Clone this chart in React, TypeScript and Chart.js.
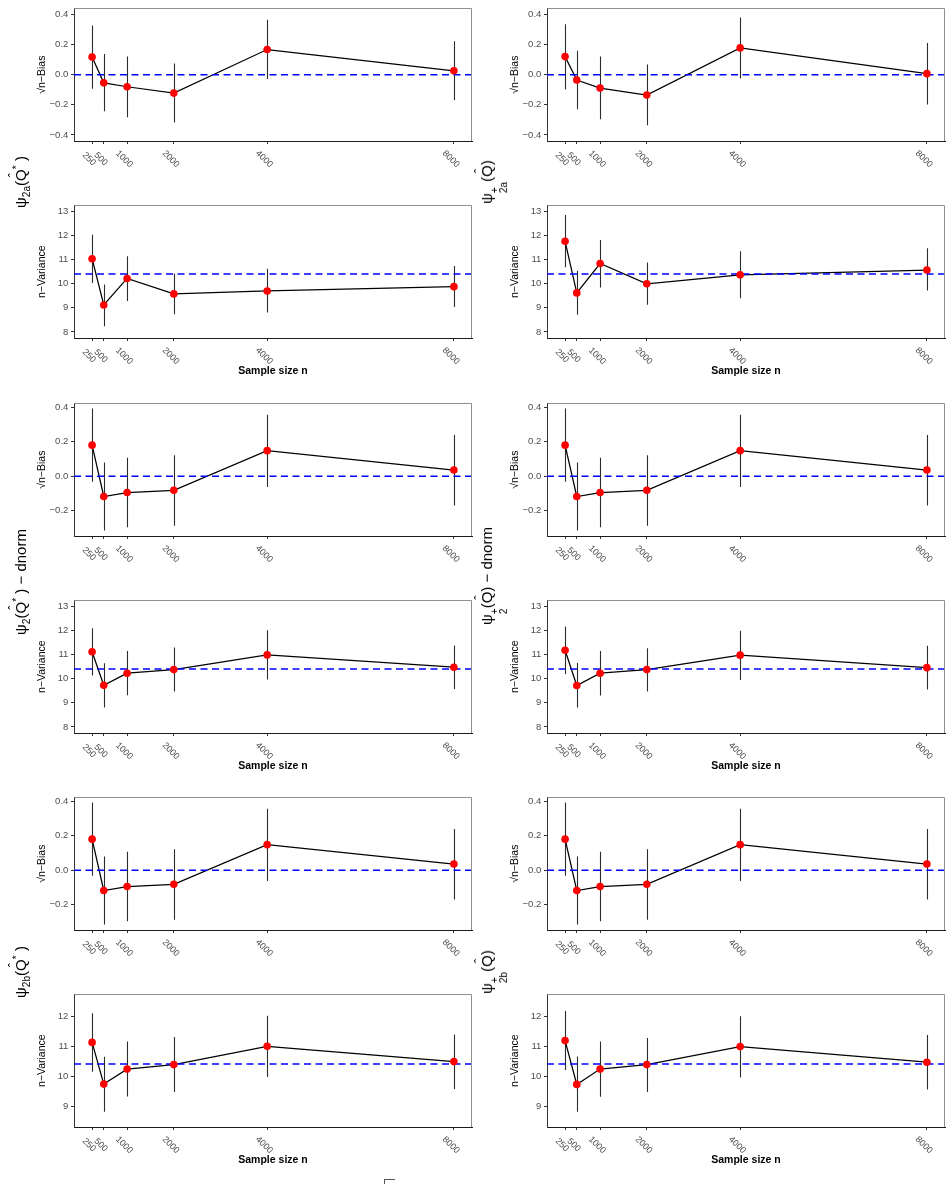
import React, { useEffect, useRef } from "react";
import { Chart, registerables } from "chart.js";

Chart.register(...registerables);

const FONT = "'Liberation Sans', Arial, Helvetica, sans-serif";

// ---------------- data ----------------
const sampleSizes = [250, 500, 1000, 2000, 4000, 8000];
const sampleSizeLabels = ["250", "500", "1000", "2000", "4000", "8000"];
const xRange = [-137.5, 8387.5];

const biasTicksFull = [-0.4, -0.2, 0, 0.2, 0.4];
const biasTicksUpper = [-0.2, 0, 0.2, 0.4];
const varTicksFull = [8, 9, 10, 11, 12, 13];
const varTicksInner = [9, 10, 11, 12];

const biasRangeFull = [-0.44, 0.44];
const biasRangeData = [-0.348, 0.424];
const varRangeFull = [7.75, 13.25];
const varRangeInner = [8.3, 12.72];

const biasTarget = 0;
const varTarget = 10.4;

// psi_2a(Q-hat*)
const bias2aStar = [0.117, -0.054, -0.08, -0.122, 0.167, 0.026];
const bias2aStarLow = [-0.093, -0.243, -0.283, -0.317, -0.028, -0.17];
const bias2aStarHigh = [0.326, 0.137, 0.12, 0.074, 0.365, 0.222];
const var2aStar = [11.04, 9.12, 10.22, 9.58, 9.7, 9.88];
const var2aStarLow = [10.03, 8.24, 9.28, 8.73, 8.81, 9.04];
const var2aStarHigh = [12.03, 9.97, 11.14, 10.43, 10.62, 10.74];

// psi+_2a(Q-hat)
const bias2aPlus = [0.12, -0.035, -0.089, -0.135, 0.178, 0.007];
const bias2aPlusLow = [-0.098, -0.23, -0.296, -0.335, -0.026, -0.198];
const bias2aPlusHigh = [0.335, 0.159, 0.12, 0.067, 0.38, 0.211];
const var2aPlus = [11.76, 9.62, 10.84, 10.0, 10.37, 10.57];
const var2aPlusLow = [10.68, 8.71, 9.84, 9.13, 9.4, 9.72];
const var2aPlusHigh = [12.85, 10.54, 11.82, 10.88, 11.35, 11.47];

// psi_2 - dnorm and psi_2b (star / plus)
const biasDnorm = [0.181, -0.118, -0.095, -0.082, 0.149, 0.036];
const biasDnormLow = [-0.032, -0.316, -0.297, -0.288, -0.063, -0.171];
const biasDnormHigh = [0.394, 0.08, 0.107, 0.122, 0.358, 0.24];
const varStar = [11.12, 9.73, 10.23, 10.38, 10.99, 10.48];
const varStarLow = [10.14, 8.81, 9.32, 9.47, 9.97, 9.57];
const varStarHigh = [12.09, 10.64, 11.15, 11.3, 12.01, 11.38];
const varPlus = [11.18, 9.72, 10.23, 10.38, 10.98, 10.46];
const varPlusLow = [10.2, 8.81, 9.31, 9.47, 9.95, 9.55];
const varPlusHigh = [12.17, 10.65, 11.15, 11.27, 11.99, 11.37];

// ---------------- layout ----------------
const PLOT_W = 398;
const PLOT_H = 135;
const AXIS_W = 60;
const PAD_TOP = 6;
const PAD_RIGHT = 6;
const XAXIS_H = 46;
const COL_LEFT = [74, 547];
const ROW_TOP = [6, 203, 401, 598, 795, 992];

type PanelDef = {
  col: number;
  row: number;
  est: number[];
  lo: number[];
  hi: number[];
  range: number[];
  ticks: number[];
  kind: "bias" | "var";
};

const panels: PanelDef[] = [
  { col: 0, row: 0, est: bias2aStar, lo: bias2aStarLow, hi: bias2aStarHigh, range: biasRangeFull, ticks: biasTicksFull, kind: "bias" },
  { col: 0, row: 1, est: var2aStar, lo: var2aStarLow, hi: var2aStarHigh, range: varRangeFull, ticks: varTicksFull, kind: "var" },
  { col: 1, row: 0, est: bias2aPlus, lo: bias2aPlusLow, hi: bias2aPlusHigh, range: biasRangeFull, ticks: biasTicksFull, kind: "bias" },
  { col: 1, row: 1, est: var2aPlus, lo: var2aPlusLow, hi: var2aPlusHigh, range: varRangeFull, ticks: varTicksFull, kind: "var" },
  { col: 0, row: 2, est: biasDnorm, lo: biasDnormLow, hi: biasDnormHigh, range: biasRangeData, ticks: biasTicksUpper, kind: "bias" },
  { col: 0, row: 3, est: varStar, lo: varStarLow, hi: varStarHigh, range: varRangeFull, ticks: varTicksFull, kind: "var" },
  { col: 1, row: 2, est: biasDnorm, lo: biasDnormLow, hi: biasDnormHigh, range: biasRangeData, ticks: biasTicksUpper, kind: "bias" },
  { col: 1, row: 3, est: varPlus, lo: varPlusLow, hi: varPlusHigh, range: varRangeFull, ticks: varTicksFull, kind: "var" },
  { col: 0, row: 4, est: biasDnorm, lo: biasDnormLow, hi: biasDnormHigh, range: biasRangeData, ticks: biasTicksUpper, kind: "bias" },
  { col: 0, row: 5, est: varStar, lo: varStarLow, hi: varStarHigh, range: varRangeInner, ticks: varTicksInner, kind: "var" },
  { col: 1, row: 4, est: biasDnorm, lo: biasDnormLow, hi: biasDnormHigh, range: biasRangeData, ticks: biasTicksUpper, kind: "bias" },
  { col: 1, row: 5, est: varPlus, lo: varPlusLow, hi: varPlusHigh, range: varRangeInner, ticks: varTicksInner, kind: "var" },
];

function fmtTick(v: number, kind: string) {
  if (kind === "bias") return v.toFixed(1).replace("-", "\u2212");
  return String(v);
}

function Panel({ p }: { p: PanelDef }) {
  const ref = useRef<HTMLCanvasElement | null>(null);
  const width = AXIS_W + PLOT_W + PAD_RIGHT;
  const height = PAD_TOP + PLOT_H + XAXIS_H;
  const left = COL_LEFT[p.col] - AXIS_W;
  const top = ROW_TOP[p.row] - PAD_TOP;

  useEffect(() => {
    if (!ref.current) return;
    const target = p.kind === "bias" ? biasTarget : varTarget;
    const showXTitle = p.kind === "var";

    const errorBars = {
      id: "errorBars",
      beforeDatasetsDraw(chart: any) {
        const { ctx, chartArea } = chart;
        const xs = chart.scales.x;
        const ys = chart.scales.y;
        ctx.save();
        ctx.beginPath();
        ctx.rect(chartArea.left, chartArea.top, chartArea.right - chartArea.left, chartArea.bottom - chartArea.top);
        ctx.clip();
        ctx.beginPath();
        ctx.strokeStyle = "#2b2b2b";
        ctx.lineWidth = 1.1;
        sampleSizes.forEach((n, i) => {
          const px = Math.round(xs.getPixelForValue(n)) + 0.5;
          ctx.moveTo(px, ys.getPixelForValue(p.lo[i]));
          ctx.lineTo(px, ys.getPixelForValue(p.hi[i]));
        });
        ctx.stroke();
        ctx.restore();
      },
    };

    const frameAndLabels = {
      id: "frameAndLabels",
      afterDraw(chart: any) {
        const { ctx, chartArea } = chart;
        const xs = chart.scales.x;
        ctx.save();
        // top and right panel border
        ctx.strokeStyle = "#8f8f8f";
        ctx.lineWidth = 1;
        ctx.beginPath();
        ctx.moveTo(Math.round(chartArea.left) + 0.5, Math.round(chartArea.top) + 0.5);
        ctx.lineTo(Math.round(chartArea.right) - 0.5, Math.round(chartArea.top) + 0.5);
        ctx.lineTo(Math.round(chartArea.right) - 0.5, Math.round(chartArea.bottom));
        ctx.stroke();
        // rotated x tick labels
        ctx.fillStyle = "#4d4d4d";
        ctx.font = `9px ${FONT}`;
        ctx.textAlign = "center";
        ctx.textBaseline = "middle";
        sampleSizes.forEach((n, i) => {
          const px = xs.getPixelForValue(n);
          ctx.save();
          ctx.translate(px - 3, chartArea.bottom + 18);
          ctx.rotate(Math.PI / 4);
          ctx.fillText(sampleSizeLabels[i], 0, 0);
          ctx.restore();
        });
        ctx.restore();
      },
    };

    const chart = new Chart(ref.current, {
      type: "line",
      data: {
        datasets: [
          {
            data: sampleSizes.map((n, i) => ({ x: n, y: p.est[i] })),
            showLine: false,
            pointRadius: 3.8,
            pointBackgroundColor: "#ff0000",
            pointBorderColor: "#ff0000",
            pointBorderWidth: 0,
            order: 1,
          },
          {
            data: xRange.map((x) => ({ x, y: target })),
            borderColor: "#0000ff",
            borderWidth: 1.5,
            borderDash: [7, 4.5],
            pointRadius: 0,
            order: 2,
          },
          {
            data: sampleSizes.map((n, i) => ({ x: n, y: p.est[i] })),
            borderColor: "#000000",
            borderWidth: 1.25,
            pointRadius: 0,
            tension: 0,
            order: 3,
          },
        ],
      },
      options: {
        animation: false,
        responsive: false,
        devicePixelRatio: 1,
        layout: { padding: { top: PAD_TOP, right: PAD_RIGHT, left: 0, bottom: 0 } },
        plugins: {
          legend: { display: false },
          tooltip: { enabled: false },
        },
        scales: {
          x: {
            type: "linear",
            bounds: "data",
            min: xRange[0],
            max: xRange[1],
            afterBuildTicks: (s: any) => {
              s.ticks = sampleSizes.map((v) => ({ value: v }));
            },
            afterFit: (s: any) => {
              s.height = XAXIS_H;
            },
            ticks: { display: false },
            grid: { drawOnChartArea: false, drawTicks: true, tickLength: 3, tickColor: "#333333", tickWidth: 1 },
            border: { display: true, color: "#1a1a1a", width: 1 },
            title: {
              display: showXTitle,
              text: "Sample size n",
              color: "#000000",
              font: { family: FONT, size: 10.5, weight: "bold", lineHeight: 1.2 },
              padding: { top: 0, bottom: 6.7 },
            },
          },
          y: {
            type: "linear",
            bounds: "data",
            min: p.range[0],
            max: p.range[1],
            afterBuildTicks: (s: any) => {
              s.ticks = p.ticks.map((v) => ({ value: v }));
            },
            afterFit: (s: any) => {
              s.width = AXIS_W;
            },
            ticks: {
              autoSkip: false,
              color: "#4d4d4d",
              padding: 2.7,
              font: { family: FONT, size: 9.5, lineHeight: 1.2 },
              callback: (v: any) => fmtTick(Number(v), p.kind),
            },
            grid: { drawOnChartArea: false, drawTicks: true, tickLength: 3, tickColor: "#333333", tickWidth: 1 },
            border: { display: true, color: "#333333", width: 1 },
            title: {
              display: true,
              text: p.kind === "bias" ? "\u221An\u2212Bias" : "n\u2212Variance",
              color: "#000000",
              font: { family: FONT, size: 10.5, lineHeight: 1.2 },
              padding: { top: 22.2, bottom: 0 },
            },
          },
        },
      } as any,
      plugins: [errorBars, frameAndLabels],
    });
    return () => chart.destroy();
  }, []);

  return (
    <canvas
      ref={ref}
      width={width}
      height={height}
      style={{ position: "absolute", left, top, width, height }}
    />
  );
}

const subStyle: React.CSSProperties = { fontSize: "0.68em", verticalAlign: "-0.32em", lineHeight: 1 };
const supStyle: React.CSSProperties = { fontSize: "0.68em", verticalAlign: "0.62em", lineHeight: 1 };

function QHat() {
  return (
    <span style={{ position: "relative", display: "inline-block" }}>
      Q
      <span
        style={{
          position: "absolute",
          left: "50%",
          top: "-0.42em",
          transform: "translateX(-50%)",
          fontSize: "0.85em",
        }}
      >
        {"\u02C6"}
      </span>
    </span>
  );
}

function Stack({ top, bottom }: { top: string; bottom: string }) {
  return (
    <span
      style={{
        display: "inline-flex",
        flexDirection: "column",
        alignItems: "flex-start",
        fontSize: "0.68em",
        lineHeight: 0.95,
        verticalAlign: "-0.55em",
      }}
    >
      <span>{top}</span>
      <span>{bottom}</span>
    </span>
  );
}

function RowLabel({ x, y, children }: { x: number; y: number; children: React.ReactNode }) {
  return (
    <div
      style={{
        position: "absolute",
        left: x,
        top: y,
        transform: "translate(-50%, -50%) rotate(-90deg)",
        whiteSpace: "nowrap",
        fontFamily: FONT,
        fontSize: 15,
        lineHeight: 1,
        color: "#000",
      }}
    >
      {children}
    </div>
  );
}

export default function App() {
  return (
    <div
      style={{
        position: "absolute",
        left: 0,
        top: 0,
        width: 952,
        height: 1192,
        overflow: "hidden",
        background: "#ffffff",
      }}
    >
      {panels.map((p, i) => (
        <Panel key={i} p={p} />
      ))}

      <RowLabel x={22} y={182}>
        ψ<span style={subStyle}>2a</span>(<QHat />
        <span style={supStyle}>*</span>
        {"\u00A0"})
      </RowLabel>
      <RowLabel x={22} y={582}>
        ψ<span style={subStyle}>2</span>(<QHat />
        <span style={supStyle}>*</span>
        {"\u00A0"}) − dnorm
      </RowLabel>
      <RowLabel x={22} y={972}>
        ψ<span style={subStyle}>2b</span>(<QHat />
        <span style={supStyle}>*</span>
        {"\u00A0"})
      </RowLabel>

      <RowLabel x={494} y={182}>
        ψ<Stack top="+" bottom="2a" />(<QHat />)
      </RowLabel>
      <RowLabel x={494} y={576}>
        ψ<Stack top="+" bottom="2" />(<QHat />) − dnorm
      </RowLabel>
      <RowLabel x={494} y={972}>
        ψ<Stack top="+" bottom="2b" />(<QHat />)
      </RowLabel>

      {/* cut-off caption at the bottom edge (only the radical's bar is visible) */}
      <div
        style={{
          position: "absolute",
          left: 384,
          top: 1179,
          width: 11,
          paddingTop: 16,
          borderTop: "1px solid #555",
          fontFamily: FONT,
          fontSize: 12,
          lineHeight: 1,
        }}
      >
        <span
          style={{
            position: "absolute",
            left: 0,
            top: 0,
            width: 0,
            height: 4,
            borderLeft: "1px solid #555",
          }}
        />
        n
      </div>
    </div>
  );
}
